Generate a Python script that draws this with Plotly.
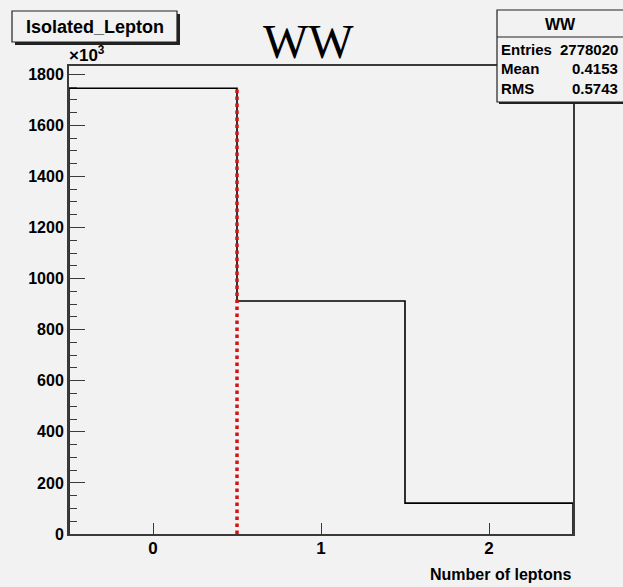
import plotly.graph_objects as go

# Histogram of isolated leptons per event (WW sample)
bin_edges = [-0.5, 0.5, 1.5, 2.5]
bin_counts = [1745133, 912062, 120825]
tick_values = [0, 200, 400, 600, 800, 1000, 1200, 1400, 1600, 1800]
x_tick_values = [0, 1, 2]
cut_value = 0.5

hist_name = "Isolated_Lepton"
sample_name = "WW"
stats_rows = [("Entries", "2778020"), ("Mean", "0.4153"), ("RMS", "0.5743")]
x_title = "Number of leptons"

W, H = 623, 587
L, R, T, B = 69, 573, 66, 534  # frame edges in pixels

BG = "#f2f2f2"
FRAME = "#3a3a3a"
SANS = "Liberation Sans, Arial, sans-serif"

scale = 1e-3  # axis shown in units of 10^3
counts_k = [c * scale for c in bin_counts]
y_max = max(counts_k) * 1.05


def px(x):
    return (x - L) / (R - L)


def py(y):
    return (B - y) / (B - T)


fig = go.Figure()

# step outline of the histogram
step_x = [bin_edges[0]] + bin_edges + [bin_edges[-1]]
step_y = [0] + counts_k + [counts_k[-1], 0]
fig.add_trace(go.Scatter(
    x=step_x, y=step_y, mode="lines", line=dict(color="black", width=1.6, shape="hv"),
    hoverinfo="skip", showlegend=False,
))

# selection cut line
fig.add_trace(go.Scatter(
    x=[cut_value, cut_value], y=[0, counts_k[0]], mode="lines",
    line=dict(color="#d41414", width=3.5, dash="dot"),
    hoverinfo="skip", showlegend=False,
))

shapes = []
annotations = []

# title box with drop shadow
tb = (12, 11, 177, 42)
shapes.append(dict(type="rect", xref="paper", yref="paper",
                   x0=px(tb[0] + 3), x1=px(tb[2] + 3), y0=py(tb[1] + 3), y1=py(tb[3] + 3),
                   fillcolor="#222222", line=dict(width=0), layer="above"))
shapes.append(dict(type="rect", xref="paper", yref="paper",
                   x0=px(tb[0]), x1=px(tb[2]), y0=py(tb[1]), y1=py(tb[3]),
                   fillcolor=BG, line=dict(color="#222222", width=1.2), layer="above"))
annotations.append(dict(xref="paper", yref="paper", x=px((tb[0] + tb[2]) / 2), y=py(27),
                        text=f"<b>{hist_name}</b>", showarrow=False,
                        xanchor="center", yanchor="middle",
                        font=dict(family=SANS, size=18, color="black")))

# stats box with drop shadow
sb = (497, 10, 626, 102)
shapes.append(dict(type="rect", xref="paper", yref="paper",
                   x0=px(sb[0] + 2), x1=px(sb[2] + 2), y0=py(sb[1] + 2), y1=py(sb[3] + 2),
                   fillcolor="#222222", line=dict(width=0), layer="above"))
shapes.append(dict(type="rect", xref="paper", yref="paper",
                   x0=px(sb[0]), x1=px(sb[2]), y0=py(sb[1]), y1=py(sb[3]),
                   fillcolor=BG, line=dict(color="#222222", width=1.2), layer="above"))
shapes.append(dict(type="line", xref="paper", yref="paper",
                   x0=px(sb[0]), x1=px(sb[2]), y0=py(37), y1=py(37),
                   line=dict(color="#222222", width=1.2), layer="above"))
annotations.append(dict(xref="paper", yref="paper", x=px(560), y=py(24),
                        text=f"<b>{sample_name}</b>", showarrow=False,
                        xanchor="center", yanchor="middle",
                        font=dict(family=SANS, size=16, color="black")))
for i, (label, value) in enumerate(stats_rows):
    yc = 50 + i * 19
    annotations.append(dict(xref="paper", yref="paper", x=px(499), y=py(yc),
                            text=f"<b>{label}</b>", showarrow=False,
                            xanchor="left", yanchor="middle",
                            font=dict(family=SANS, size=15, color="black")))
    annotations.append(dict(xref="paper", yref="paper", x=px(620), y=py(yc),
                            text=f"<b>{value}</b>", showarrow=False,
                            xanchor="right", yanchor="middle",
                            font=dict(family=SANS, size=15, color="black")))

# main title
annotations.append(dict(xref="paper", yref="paper", x=px(308), y=py(42),
                        text=sample_name, showarrow=False,
                        xanchor="center", yanchor="middle",
                        font=dict(family="Liberation Serif, Times New Roman, serif",
                                  size=48, color="black")))

# exponent marker on the y axis
annotations.append(dict(xref="paper", yref="paper", x=px(67), y=py(54),
                        text="<b>×10<sup>3</sup></b>", showarrow=False,
                        xanchor="left", yanchor="middle",
                        font=dict(family=SANS, size=17, color="black")))

# x axis title, right aligned to the frame
annotations.append(dict(xref="paper", yref="paper", x=px(573), y=py(574),
                        text=f"<b>{x_title}</b>", showarrow=False,
                        xanchor="right", yanchor="middle",
                        font=dict(family=SANS, size=16, color="black")))

fig.update_layout(
    width=W, height=H,
    margin=dict(l=L, r=W - R, t=T, b=H - B, pad=0),
    paper_bgcolor=BG, plot_bgcolor=BG,
    showlegend=False,
    shapes=shapes,
    annotations=annotations,
)

fig.update_xaxes(
    range=[bin_edges[0], bin_edges[-1]],
    tickvals=x_tick_values, ticktext=[str(v) for v in x_tick_values],
    ticks="inside", ticklen=11, tickwidth=1.3, tickcolor=FRAME,
    showline=True, mirror=True, linecolor=FRAME, linewidth=2,
    showgrid=False, zeroline=False, ticklabelstandoff=-2,
    tickfont=dict(family=SANS, size=17, color="black", weight="bold"),
)
fig.update_yaxes(
    range=[0, y_max],
    tickvals=tick_values, ticktext=[str(v) for v in tick_values],
    ticks="inside", ticklen=16, tickwidth=1.3, tickcolor=FRAME,
    minor=dict(ticks="inside", ticklen=8, dtick=50, tickcolor=FRAME, tickwidth=1.2, showgrid=False),
    showline=True, mirror=True, linecolor=FRAME, linewidth=2,
    showgrid=False, zeroline=False,
    tickfont=dict(family=SANS, size=16, color="black", weight="bold"),
)

fig.write_html("out.html")
